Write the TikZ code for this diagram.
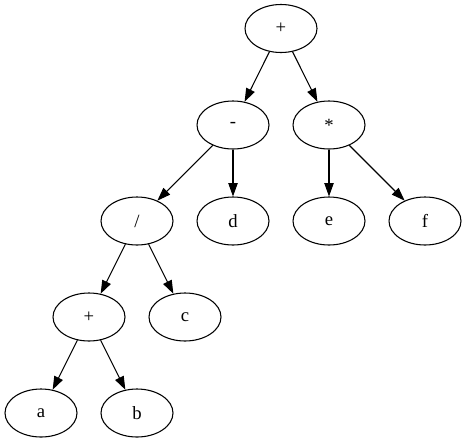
\documentclass[tikz,border=0pt]{standalone}
\usepackage{fontspec}
\setmainfont{Liberation Serif}
\usepackage{tikz}
\usetikzlibrary{arrows.meta,shapes.geometric}

\begin{document}
\begin{tikzpicture}[x=0.75pt, y=-0.75pt,
  vertex/.style={draw, ellipse, line width=0.8pt, inner sep=0pt,
    minimum width=54pt, minimum height=36pt, font=\fontsize{14}{16}\selectfont},
  edge/.style={-{Triangle[length=10pt,width=7pt]}, line width=0.8pt}]
  \useasboundingbox (0,0) rectangle (467,443);
  % operatoren
  \node[vertex] (plus)  at (281, 28.5) {+};
  \node[vertex] (minus) at (233, 125) {-};
  \node[vertex] (times) at (329, 125) {*};
  \node[vertex] (div)   at (137, 221) {/};
  \node[vertex] (plusb) at ( 89, 317) {+};
  % blaetter
  \node[vertex] (d) at (233, 221) {d};
  \node[vertex] (e) at (329, 221) {e};
  \node[vertex] (f) at (425, 221) {f};
  \node[vertex] (c) at (185, 317) {c};
  \node[vertex] (a) at ( 41, 413) {a};
  \node[vertex] (b) at (137, 413) {b};
  % kanten
  \foreach \s/\t in {plus/minus, plus/times, minus/div, minus/d, times/e,
                     times/f, div/plusb, div/c, plusb/a, plusb/b} {
    \draw[edge] (\s) -- (\t);
  }
\end{tikzpicture}
\end{document}
